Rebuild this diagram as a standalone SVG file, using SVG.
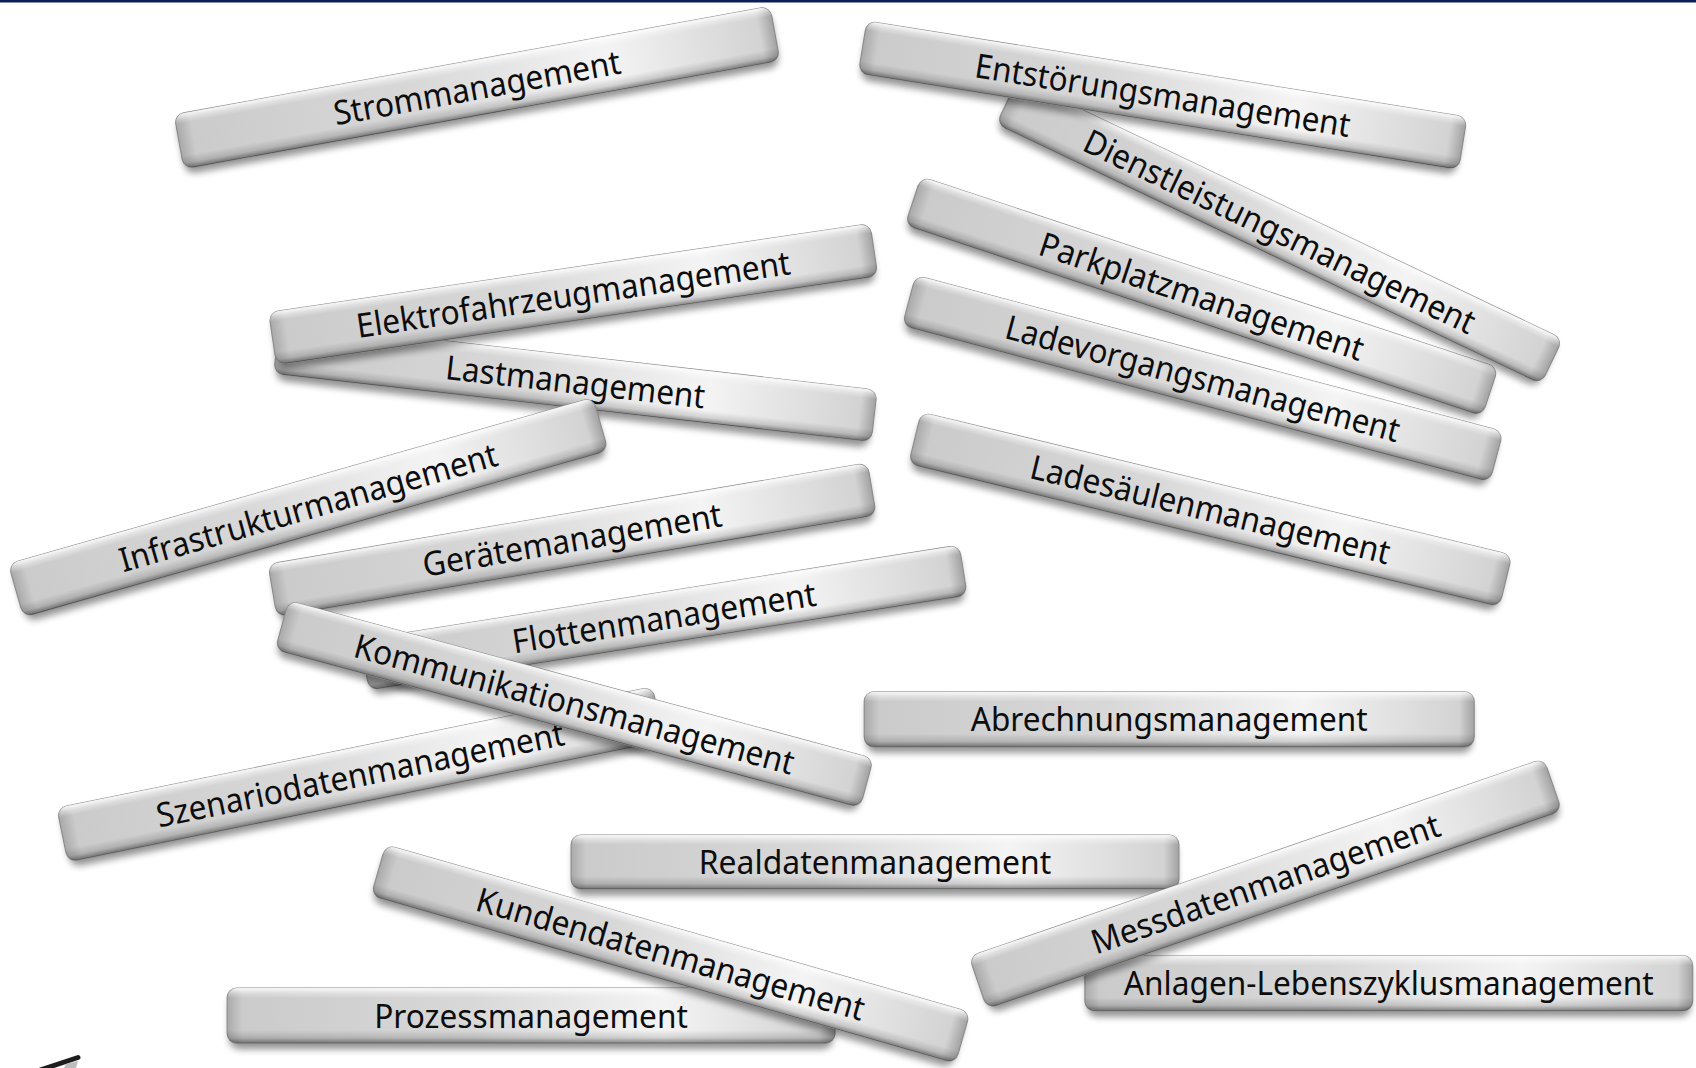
<svg xmlns="http://www.w3.org/2000/svg" width="1696" height="1068" viewBox="0 0 1696 1068">
<style>
.sh{fill:#000;opacity:.42;filter:url(#blur)}
.b{fill:url(#hg);stroke:#8a8a8a;stroke-width:1}
.o{fill:url(#vg)}
.t{font-family:"Noto Sans","Open Sans","DejaVu Sans",sans-serif;font-size:31px;fill:#0d0d0d;text-anchor:middle}
</style>
<defs>
<filter id="blur" x="-10%" y="-60%" width="120%" height="220%"><feGaussianBlur stdDeviation="3.5"/></filter>
<linearGradient id="hg" x1="0" y1="0" x2="1" y2="0">
<stop offset="0" stop-color="#a9a9a9"/>
<stop offset="0.025" stop-color="#cbcbcb"/>
<stop offset="0.4" stop-color="#d8d8d8"/>
<stop offset="0.72" stop-color="#f4f4f4"/>
<stop offset="0.975" stop-color="#d3d3d3"/>
<stop offset="1" stop-color="#a2a2a2"/>
</linearGradient>
<linearGradient id="vg" x1="0" y1="0" x2="0" y2="1">
<stop offset="0" stop-color="#fff" stop-opacity="0.9"/>
<stop offset="0.09" stop-color="#fff" stop-opacity="0.35"/>
<stop offset="0.18" stop-color="#fff" stop-opacity="0"/>
<stop offset="0.76" stop-color="#000" stop-opacity="0"/>
<stop offset="0.9" stop-color="#000" stop-opacity="0.14"/>
<stop offset="1" stop-color="#000" stop-opacity="0.45"/>
</linearGradient>
</defs>
<rect x="0" y="0" width="1696" height="1068" fill="#fff"/>
<rect x="0" y="0" width="1696" height="2.5" fill="#0c1e57"/>
<g id="fragment">
<line x1="40" y1="1070" x2="78" y2="1057.5" stroke="#1e1e1e" stroke-width="5" stroke-linecap="round"/>
<path d="M66 1064 L78 1061 L76 1068 L64 1068 Z" fill="#bdbdbd"/>
</g>
<g transform="scale(1.0816)">
<g id="n-strom" transform="translate(441 81) rotate(-10.3)">
<rect class="sh" x="-279" y="-20" width="558" height="51" rx="9"/>
<rect class="b" x="-280" y="-25.5" width="560" height="51" rx="9"/>
<rect class="o" x="-280" y="-25.5" width="560" height="51" rx="9"/>
<text class="t" y="11" textLength="269" lengthAdjust="spacingAndGlyphs">Strommanagement</text>
</g>
<g id="n-parkplatz" transform="translate(1111 274) rotate(18.3)">
<rect class="sh" x="-279" y="-18" width="558" height="47" rx="9"/>
<rect class="b" x="-281" y="-23.5" width="562" height="47" rx="9"/>
<rect class="o" x="-281" y="-23.5" width="562" height="47" rx="9"/>
<text class="t" y="11" textLength="314" lengthAdjust="spacingAndGlyphs">Parkplatzmanagement</text>
</g>
<g id="n-dienst" transform="translate(1183 214) rotate(25.5)">
<rect class="sh" x="-277" y="-18" width="554" height="46" rx="9"/>
<rect class="b" x="-279" y="-23" width="558" height="46" rx="9"/>
<rect class="o" x="-279" y="-23" width="558" height="46" rx="9"/>
<text class="t" y="11" textLength="397" lengthAdjust="spacingAndGlyphs">Dienstleistungsmanagement</text>
</g>
<g id="n-entstoerung" transform="translate(1075 88) rotate(9.1)">
<rect class="sh" x="-279" y="-19" width="558" height="49" rx="9"/>
<rect class="b" x="-281" y="-24.5" width="562" height="49" rx="9"/>
<rect class="o" x="-281" y="-24.5" width="562" height="49" rx="9"/>
<text class="t" y="11" textLength="351" lengthAdjust="spacingAndGlyphs">Entstörungsmanagement</text>
</g>
<g id="n-ladevorgang" transform="translate(1112 350) rotate(14.9)">
<rect class="sh" x="-279" y="-18" width="558" height="48" rx="9"/>
<rect class="b" x="-281" y="-24" width="562" height="48" rx="9"/>
<rect class="o" x="-281" y="-24" width="562" height="48" rx="9"/>
<text class="t" y="11" textLength="376" lengthAdjust="spacingAndGlyphs">Ladevorgangsmanagement</text>
</g>
<g id="n-ladesaeulen" transform="translate(1119 471) rotate(13.6)">
<rect class="sh" x="-279" y="-19" width="558" height="49" rx="9"/>
<rect class="b" x="-281" y="-24.5" width="562" height="49" rx="9"/>
<rect class="o" x="-281" y="-24.5" width="562" height="49" rx="9"/>
<text class="t" y="11" textLength="341" lengthAdjust="spacingAndGlyphs">Ladesäulenmanagement</text>
</g>
<g id="n-last" transform="translate(532 353) rotate(6.5)">
<rect class="sh" x="-276" y="-18" width="552" height="48" rx="9"/>
<rect class="b" x="-278" y="-24" width="556" height="48" rx="9"/>
<rect class="o" x="-278" y="-24" width="556" height="48" rx="9"/>
<text class="t" y="11" textLength="241" lengthAdjust="spacingAndGlyphs">Lastmanagement</text>
</g>
<g id="n-elektro" transform="translate(530 272) rotate(-8.4)">
<rect class="sh" x="-279" y="-19" width="558" height="49" rx="9"/>
<rect class="b" x="-281" y="-24.5" width="562" height="49" rx="9"/>
<rect class="o" x="-281" y="-24.5" width="562" height="49" rx="9"/>
<text class="t" y="11" textLength="405" lengthAdjust="spacingAndGlyphs">Elektrofahrzeugmanagement</text>
</g>
<g id="n-infra" transform="translate(285 469) rotate(-15.9)">
<rect class="sh" x="-279" y="-20" width="558" height="51" rx="9"/>
<rect class="b" x="-281" y="-25.5" width="562" height="51" rx="9"/>
<rect class="o" x="-281" y="-25.5" width="562" height="51" rx="9"/>
<text class="t" y="11" textLength="362" lengthAdjust="spacingAndGlyphs">Infrastrukturmanagement</text>
</g>
<g id="n-flotten" transform="translate(614 571) rotate(-9)">
<rect class="sh" x="-278" y="-18" width="556" height="47" rx="9"/>
<rect class="b" x="-280" y="-23.5" width="560" height="47" rx="9"/>
<rect class="o" x="-280" y="-23.5" width="560" height="47" rx="9"/>
<text class="t" y="11" textLength="284" lengthAdjust="spacingAndGlyphs">Flottenmanagement</text>
</g>
<g id="n-geraete" transform="translate(529 499) rotate(-9.6)">
<rect class="sh" x="-279" y="-19" width="558" height="49" rx="9"/>
<rect class="b" x="-281" y="-24.5" width="562" height="49" rx="9"/>
<rect class="o" x="-281" y="-24.5" width="562" height="49" rx="9"/>
<text class="t" y="11" textLength="280" lengthAdjust="spacingAndGlyphs">Gerätemanagement</text>
</g>
<g id="n-szenario" transform="translate(333 716) rotate(-11.5)">
<rect class="sh" x="-279" y="-20" width="558" height="51" rx="9"/>
<rect class="b" x="-281" y="-25.5" width="562" height="51" rx="9"/>
<rect class="o" x="-281" y="-25.5" width="562" height="51" rx="9"/>
<text class="t" y="11" textLength="384" lengthAdjust="spacingAndGlyphs">Szenariodatenmanagement</text>
</g>
<g id="n-kommunikation" transform="translate(531 651) rotate(15.1)">
<rect class="sh" x="-278" y="-18" width="556" height="47" rx="9"/>
<rect class="b" x="-280" y="-23.5" width="560" height="47" rx="9"/>
<rect class="o" x="-280" y="-23.5" width="560" height="47" rx="9"/>
<text class="t" y="11" textLength="420" lengthAdjust="spacingAndGlyphs">Kommunikationsmanagement</text>
</g>
<g id="n-abrechnung" transform="translate(1081 665)">
<rect class="sh" x="-280" y="-20" width="560" height="51" rx="9"/>
<rect class="b" x="-282" y="-25.5" width="564" height="51" rx="9"/>
<rect class="o" x="-282" y="-25.5" width="564" height="51" rx="9"/>
<text class="t" y="11" textLength="367" lengthAdjust="spacingAndGlyphs">Abrechnungsmanagement</text>
</g>
<g id="n-realdaten" transform="translate(809 797)">
<rect class="sh" x="-279" y="-19" width="558" height="50" rx="9"/>
<rect class="b" x="-281" y="-25" width="562" height="50" rx="9"/>
<rect class="o" x="-281" y="-25" width="562" height="50" rx="9"/>
<text class="t" y="11" textLength="326" lengthAdjust="spacingAndGlyphs">Realdatenmanagement</text>
</g>
<g id="n-prozess" transform="translate(491 939)">
<rect class="sh" x="-279" y="-20" width="558" height="51" rx="9"/>
<rect class="b" x="-281" y="-25.5" width="562" height="51" rx="9"/>
<rect class="o" x="-281" y="-25.5" width="562" height="51" rx="9"/>
<text class="t" y="11" textLength="290" lengthAdjust="spacingAndGlyphs">Prozessmanagement</text>
</g>
<g id="n-kunden" transform="translate(620 882) rotate(16)">
<rect class="sh" x="-279" y="-19" width="558" height="49" rx="9"/>
<rect class="b" x="-281" y="-24.5" width="562" height="49" rx="9"/>
<rect class="o" x="-281" y="-24.5" width="562" height="49" rx="9"/>
<text class="t" y="11" textLength="372" lengthAdjust="spacingAndGlyphs">Kundendatenmanagement</text>
</g>
<g id="n-anlagen" transform="translate(1284 909)">
<rect class="sh" x="-279" y="-20" width="558" height="51" rx="9"/>
<rect class="b" x="-281" y="-25.5" width="562" height="51" rx="9"/>
<rect class="o" x="-281" y="-25.5" width="562" height="51" rx="9"/>
<text class="t" y="11" textLength="490" lengthAdjust="spacingAndGlyphs">Anlagen-Lebenszyklusmanagement</text>
</g>
<g id="n-messdaten" transform="translate(1170 817) rotate(-19)">
<rect class="sh" x="-279" y="-20" width="558" height="51" rx="9"/>
<rect class="b" x="-281" y="-25.5" width="562" height="51" rx="9"/>
<rect class="o" x="-281" y="-25.5" width="562" height="51" rx="9"/>
<text class="t" y="11" textLength="339" lengthAdjust="spacingAndGlyphs">Messdatenmanagement</text>
</g>
</g>
<g id="connectors"/>
</svg>
